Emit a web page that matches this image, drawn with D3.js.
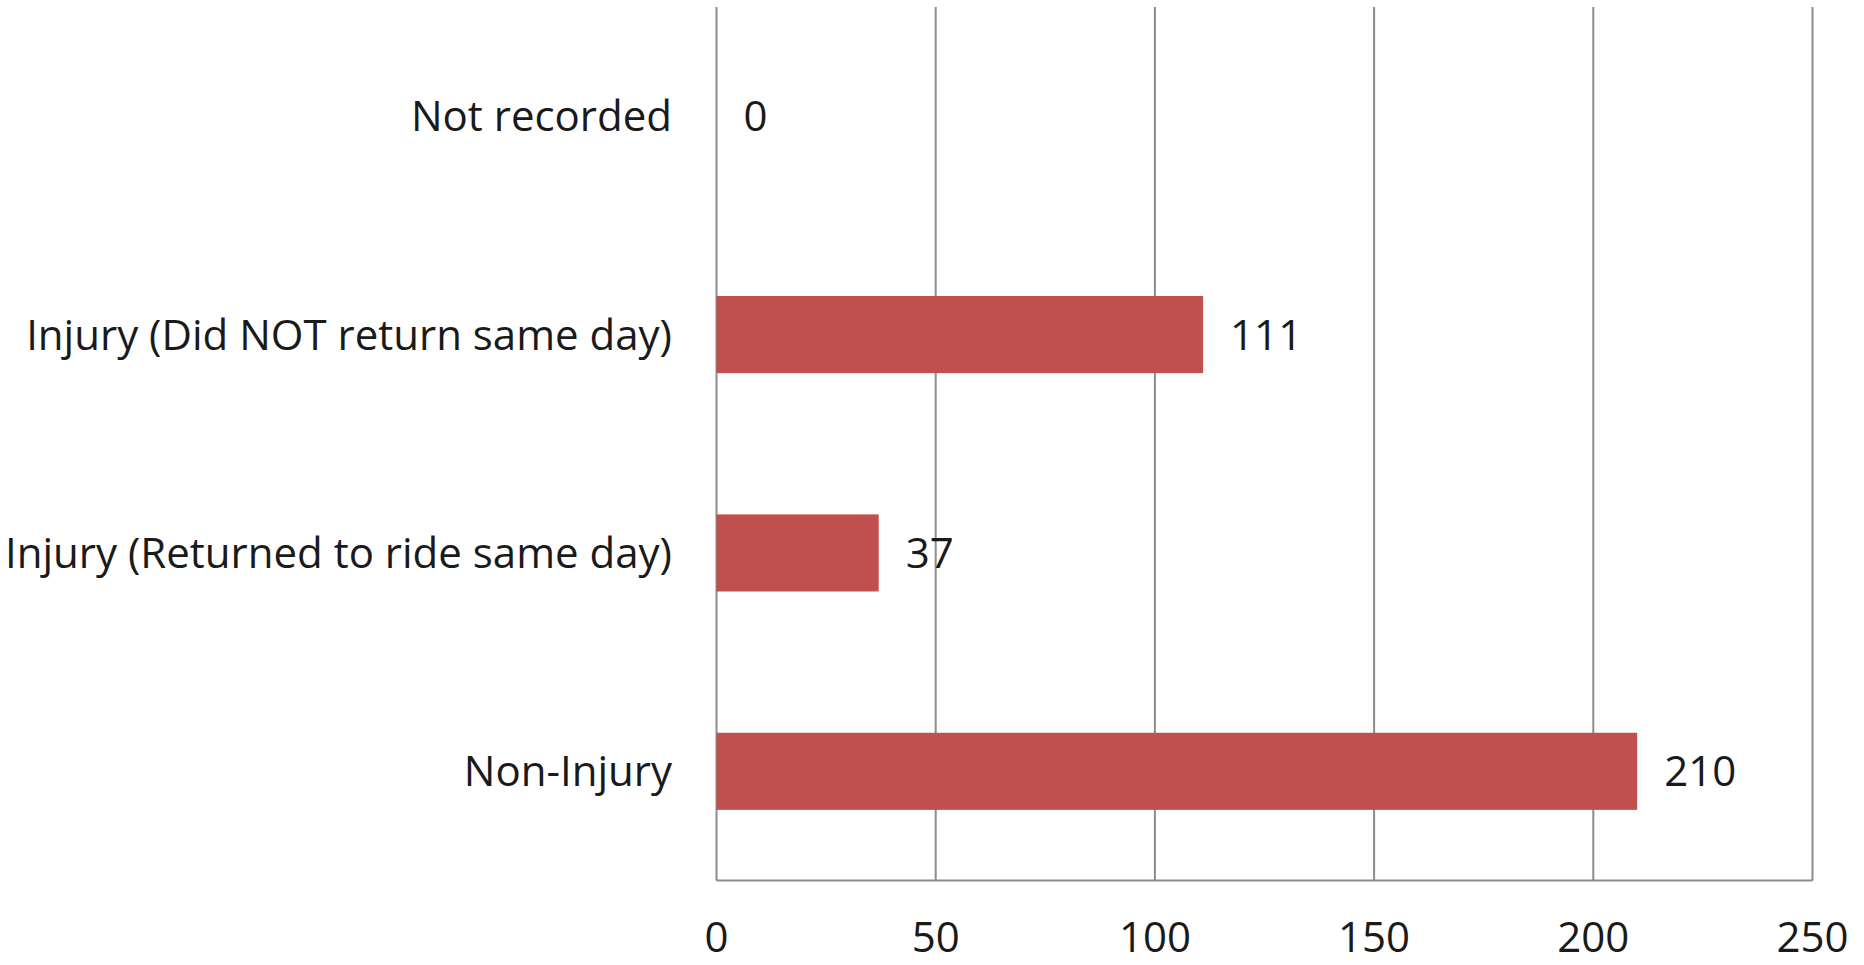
<!DOCTYPE html>
<html><head><meta charset="utf-8">
<script src="https://d3js.org/d3.v7.min.js"></script>
<style>html,body{margin:0;padding:0;background:#fff;}svg{display:block;}</style>
</head><body>
<svg id="chart" width="1864" height="965"></svg>
<script>
const categories = ["Not recorded", "Injury (Did NOT return same day)", "Injury (Returned to ride same day)", "Non-Injury"];
const values = [0, 111, 37, 210];
const xTicks = [0, 50, 100, 150, 200, 250];

(function () {
const svg = d3.select("#chart");
const pLeft = 716.5, pRight = 1812.5, pTop = 7, pBottom = 880.5;
const font = "'Open Sans', Lato, 'Liberation Sans', sans-serif";
const fs = 42;

const x = d3.scaleLinear().domain([0, 250]).range([pLeft, pRight]);
const y = d3.scaleBand().domain(categories).range([pTop, pBottom]).padding(0);
const barH = y.bandwidth() * 0.353;

// gridlines
svg.append("g").selectAll("line").data(xTicks).join("line")
  .attr("x1", d => x(d)).attr("x2", d => x(d))
  .attr("y1", pTop).attr("y2", pBottom)
  .attr("stroke", "#8c8c8c").attr("stroke-width", 2);
// bottom axis line
svg.append("line").attr("x1", pLeft).attr("x2", pRight).attr("y1", pBottom).attr("y2", pBottom)
  .attr("stroke", "#8c8c8c").attr("stroke-width", 2);

// bars
svg.append("g").selectAll("rect").data(values).join("rect")
  .attr("x", x(0)).attr("width", d => x(d) - x(0))
  .attr("y", (d, i) => y(categories[i]) + y.bandwidth() / 2 - barH / 2)
  .attr("height", barH)
  .attr("fill", "#C0504D");

// value labels
svg.append("g").selectAll("text").data(values).join("text")
  .attr("x", d => x(d) + 27)
  .attr("y", (d, i) => y(categories[i]) + y.bandwidth() / 2)
  .attr("dy", "0.36em")
  .attr("font-family", font).attr("font-size", fs).attr("fill", "#1a1a1a")
  .text(d => d);

// category labels
svg.append("g").selectAll("text").data(categories).join("text")
  .attr("x", pLeft - 44.5)
  .attr("y", d => y(d) + y.bandwidth() / 2)
  .attr("dy", "0.36em")
  .attr("text-anchor", "end")
  .attr("font-family", font).attr("font-size", fs).attr("fill", "#1a1a1a")
  .text(d => d);

// x tick labels
svg.append("g").selectAll("text").data(xTicks).join("text")
  .attr("x", d => x(d)).attr("y", 952)
  .attr("text-anchor", "middle")
  .attr("font-family", font).attr("font-size", fs).attr("fill", "#1a1a1a")
  .text(d => d);
})();
</script>
</body></html>
